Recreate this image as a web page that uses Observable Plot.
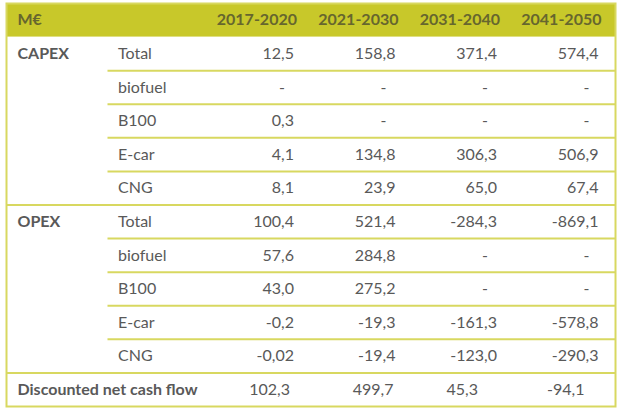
<!DOCTYPE html>
<html><head><meta charset="utf-8">
<script src="https://cdn.jsdelivr.net/npm/d3@7"></script>
<script src="https://cdn.jsdelivr.net/npm/@observablehq/plot@0.6"></script>
<style>body{margin:0;background:#fff}</style>
</head><body><div id="chart"></div>
<script>
const unitLabel = "M€";
const periods = ["2017-2020", "2021-2030", "2031-2040", "2041-2050"];
const groups = ["CAPEX", "OPEX"];
const items = ["Total", "biofuel", "B100", "E-car", "CNG"];
// values per item, per period (null = "-")
const capexTotal   = [12.5, 158.8, 371.4, 574.4];
const capexBiofuel = [null, null, null, null];
const capexB100    = [0.3, null, null, null];
const capexEcar    = [4.1, 134.8, 306.3, 506.9];
const capexCNG     = [8.1, 23.9, 65.0, 67.4];
const opexTotal    = [100.4, 521.4, -284.3, -869.1];
const opexBiofuel  = [57.6, 284.8, null, null];
const opexB100     = [43.0, 275.2, null, null];
const opexEcar     = [-0.2, -19.3, -161.3, -578.8];
const opexCNG      = [-0.02, -19.4, -123.0, -290.3];
const discountedLabel = "Discounted net cash flow";
const discounted   = [102.3, 499.7, 45.3, -94.1];

const groupValues = [
  [capexTotal, capexBiofuel, capexB100, capexEcar, capexCNG],
  [opexTotal, opexBiofuel, opexB100, opexEcar, opexCNG]
];

const fmt = v => {
  if (v == null) return "-";
  const d = (String(v).split(".")[1] || "").length;
  return v.toFixed(Math.max(1, d)).replace(".", ",");
};

const nCols = 2 + periods.length;
const nRows = 1 + groups.length * items.length + 1;

const groupCells = [], itemCells = [], valueCells = [], innerRules = [], groupRules = [];
groups.forEach((g, gi) => {
  const start = 1 + gi * items.length;
  groupCells.push({row: start, text: g});
  items.forEach((it, ii) => {
    const row = start + ii;
    itemCells.push({row, text: it});
    groupValues[gi][ii].forEach((v, pi) => valueCells.push({row, col: pi, v, text: fmt(v)}));
    if (ii > 0) innerRules.push({y: row});
  });
  groupRules.push({y: start + items.length});
});
const discRow = nRows - 1;
const discDx = [-21, -19, -36, -31];
const discCells = discounted.map((v, pi) => ({row: discRow, col: pi, v, text: fmt(v)}));

const textFill = "#595959";
const headFill = "#c8c82a";
const headText = "#66662e";
const lineColor = "#d8d860";
const fs = 16;

const chart = Plot.plot({
  width: 620, height: 415,
  marginTop: 3, marginBottom: 9, marginLeft: 6, marginRight: 5,
  x: {domain: [0, nCols], axis: null},
  y: {domain: [0, nRows], reverse: true, axis: null},
  style: {fontFamily: "Lato, 'Open Sans', sans-serif", fontSize: fs + "px", background: "#fff"},
  marks: [
    Plot.rect([0], {x1: 0, x2: nCols, y1: 0, y2: 1, fill: headFill}),
    Plot.ruleY(innerRules, {y: "y", x1: 1, x2: nCols, stroke: lineColor, strokeWidth: 2}),
    Plot.ruleY(groupRules, {y: "y", x1: 0, x2: nCols, stroke: lineColor, strokeWidth: 2}),
    Plot.frame({stroke: lineColor, strokeWidth: 2}),
    // header
    Plot.text([unitLabel], {x: 0, y: 0.5, text: d => d, textAnchor: "start", dx: 11, fill: headText, fontWeight: "bold", fontSize: fs}),
    Plot.text(periods, {x: (d, i) => i + 3, y: 0.5, text: d => d, textAnchor: "end", dx: -14, fill: headText, fontWeight: "bold", fontSize: fs}),
    // row labels
    Plot.text(groupCells, {x: 0, y: d => d.row + 0.5, text: "text", textAnchor: "start", dx: 11, fill: textFill, fontWeight: "bold", fontSize: fs}),
    Plot.text(itemCells, {x: 1, y: d => d.row + 0.5, text: "text", textAnchor: "start", dx: 10, fill: textFill, fontSize: fs}),
    // values
    Plot.text(valueCells.filter(d => d.v != null), {x: d => d.col + 3, y: d => d.row + 0.5, text: "text", textAnchor: "end", dx: -17, fill: textFill, fontSize: fs}),
    Plot.text(valueCells.filter(d => d.v == null), {x: d => d.col + 3, y: d => d.row + 0.5, text: "text", textAnchor: "end", dx: -26, fill: textFill, fontSize: fs}),
    Plot.text([discountedLabel], {x: 0, y: discRow + 0.5, text: d => d, textAnchor: "start", dx: 11, fill: textFill, fontWeight: "bold", fontSize: fs}),
    ...discCells.map((c, i) => Plot.text([c], {x: d => d.col + 3, y: d => d.row + 0.5, text: "text", textAnchor: "end", dx: discDx[i], fill: textFill, fontSize: fs}))
  ]
});
document.getElementById("chart").appendChild(chart);
</script>
</body></html>
